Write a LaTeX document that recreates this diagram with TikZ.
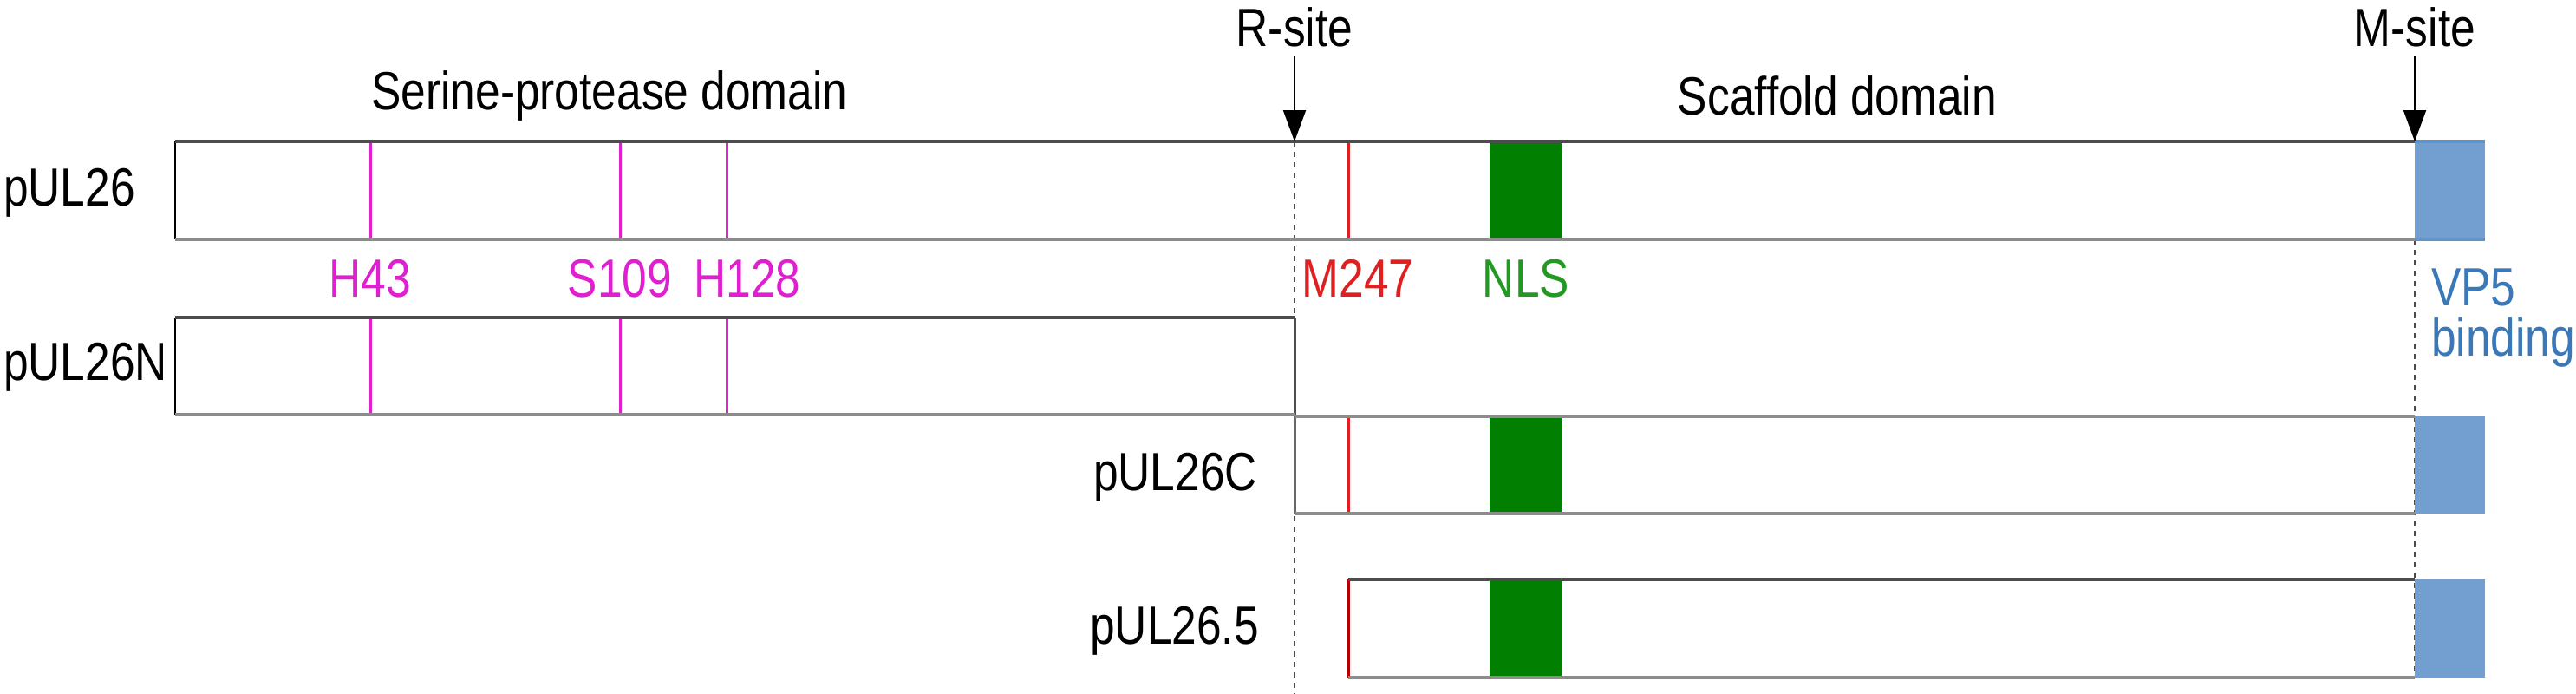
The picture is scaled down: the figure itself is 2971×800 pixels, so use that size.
\documentclass[tikz,border=0pt]{standalone}
\usepackage{fontspec}
\setmainfont{Liberation Sans}
\usetikzlibrary{arrows.meta}
\definecolor{mag}{HTML}{E020D0}
\definecolor{mred}{HTML}{E02020}
\definecolor{nls}{HTML}{007F00}
\definecolor{nlst}{HTML}{229922}
\definecolor{vp}{HTML}{729FCF}
\definecolor{vpt}{HTML}{3A78B8}
\begin{document}
\begin{tikzpicture}[x=1pt,y=-1pt,
  lbl/.style={font=\fontsize{62}{70}\selectfont, inner sep=0pt, xscale=0.83},
  topl/.style={draw=black!70, line width=4pt},
  botl/.style={draw=black!45, line width=4pt},
  site/.style={mag, line width=3pt},
  guide/.style={black!70, line width=2pt, dash pattern=on 6pt off 6pt},
  arr/.style={black, line width=2pt, -{Triangle[length=36pt,width=26pt]}}]
\useasboundingbox (0,0) rectangle (2971,800);
% dashed guides
\coordinate (r0) at (1493,163); \coordinate (r1) at (1493,800);
\coordinate (m0) at (2785,276); \coordinate (m1) at (2785,781);
\coordinate (mt) at (2785,163);
\draw[guide] (r0) -- (r1);
\draw[guide] (m0) -- (m1);
% pUL26
\fill[vp] (2785,163) rectangle (2866,276);
\fill[nls] (1718,163) rectangle (1801,276);
\draw[black, line width=2pt] (202,163) -- (202,276);
\foreach \x in {427,715,838} \draw[site] (\x,163) -- (\x,276);
\draw[mred, line width=3pt] (1555,163) -- (1555,276);
\draw[topl] (202,163) -- (2785,163);
\draw[vpt!80, line width=4pt] (2785,163) -- (2866,163);
\draw[botl] (202,276) -- (2785,276);
\draw[vpt!80, line width=4pt] (2785,276) -- (2866,276);
% pUL26N
\draw[black, line width=2pt] (202,366) -- (202,478);
\draw[black!70, line width=3pt] (1493,366) -- (1493,478);
\foreach \x in {427,715,838} \draw[site] (\x,366) -- (\x,478);
\draw[topl] (202,366) -- (1493,366);
\draw[botl] (202,478) -- (1493,478);
% pUL26C
\fill[vp] (2785,480) rectangle (2866,592);
\fill[nls] (1718,480) rectangle (1801,592);
\draw[black!60, line width=3pt] (1493,480) -- (1493,592);
\draw[mred, line width=3pt] (1555,480) -- (1555,592);
\draw[botl] (1493,480) -- (2785,480);
\draw[botl] (1493,592) -- (2785,592);
% pUL26.5
\fill[vp] (2785,668) rectangle (2866,781);
\fill[nls] (1718,668) rectangle (1801,781);
\draw[red!70!black, line width=4pt] (1555,668) -- (1555,781);
\draw[topl] (1555,668) -- (2785,668);
\draw[botl] (1555,781) -- (2785,781);
% arrows
\coordinate (ra) at (1493,64); \coordinate (ma) at (2785,64);
\draw[arr] (ra) -- (r0);
\draw[arr] (ma) -- (mt);
% labels
\node[lbl, anchor=west] (l1) at (4,222) {pUL26};
\node[lbl, anchor=west] (l2) at (4,423) {pUL26N};
\node[lbl, anchor=east] (l3) at (1450,550) {pUL26C};
\node[lbl, anchor=east] (l4) at (1452,727) {pUL26.5};
\node[lbl] (sp) at (703,110) {Serine-protease domain};
\node[lbl] (sc) at (2119,110) {Scaffold domain};
\node[lbl] (rs) at (1493,31) {R-site};
\node[lbl] (ms) at (2785,31) {M-site};
\node[lbl, text=mag] (h43) at (427,321) {H43};
\node[lbl, text=mag] (s109) at (715,321) {S109};
\node[lbl, text=mag] (h128) at (862,321) {H128};
\node[lbl, text=mred] (m247) at (1566,321) {M247};
\node[lbl, text=nlst] (nl) at (1760,321) {NLS};
\node[lbl, text=vpt, anchor=west] (vp5) at (2804,331) {VP5};
\node[lbl, text=vpt, anchor=west] (bd) at (2804,394) {binding};
\end{tikzpicture}
\end{document}
